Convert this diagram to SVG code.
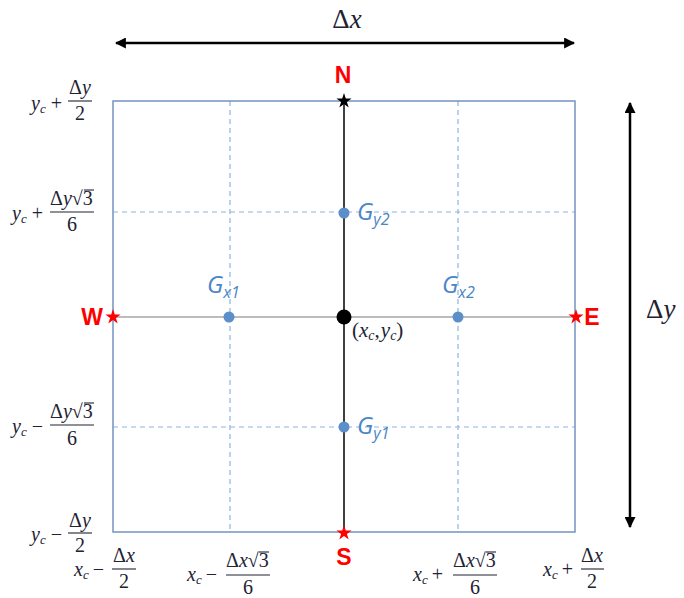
<svg xmlns="http://www.w3.org/2000/svg" width="684" height="598" viewBox="0 0 684 598">
<style>
.m{font-family:"Liberation Serif","DejaVu Serif",serif;font-size:20px;fill:#222233}
.mi{font-style:italic}
.sub{font-size:13px;font-style:italic}
.big{font-size:27px}
.c{text-anchor:middle}
.bar{stroke:#222233;stroke-width:1.1}
.lbl{font-family:"Liberation Sans",Arial,sans-serif;font-weight:bold;font-size:23px;fill:#ff0000;text-anchor:middle}
.g{font-family:"Open Sans","Liberation Sans",sans-serif;font-style:italic;font-size:24px;fill:#4a86c6}
.gs{font-size:16px}
.box{fill:none;stroke:#7394c0;stroke-width:1.5}
.dash{fill:none;stroke:#8db4e2;stroke-width:1.2;stroke-dasharray:5 4}
.arr{stroke:#000;stroke-width:2.5;fill:none}
</style>
<defs>
<marker id="ah" viewBox="0 0 10 10" refX="9" refY="5" markerWidth="4.4" markerHeight="4.4" orient="auto-start-reverse" markerUnits="strokeWidth">
<path d="M0,0 L10,5 L0,10 z" fill="#000"/>
</marker>
<path id="star" d="M0,-8 L1.80,-2.48 L7.61,-2.47 L2.91,0.95 L4.70,6.47 L0,3.06 L-4.70,6.47 L-2.91,0.95 L-7.61,-2.47 L-1.80,-2.48 Z"/>
</defs>

<g id="connectors">
<line class="arr" x1="116" y1="43" x2="574" y2="43" marker-start="url(#ah)" marker-end="url(#ah)"/>
<line class="arr" x1="630" y1="103" x2="630" y2="527" marker-start="url(#ah)" marker-end="url(#ah)"/>
<line x1="230" y1="101" x2="230" y2="532" class="dash"/>
<line x1="458" y1="101" x2="458" y2="532" class="dash"/>
<line x1="113" y1="212" x2="575" y2="212" class="dash"/>
<line x1="113" y1="427" x2="575" y2="427" class="dash"/>
<line x1="113" y1="317" x2="575" y2="317" stroke="#a6a6a6" stroke-width="1.5"/>
<line x1="344" y1="101" x2="344" y2="532" stroke="#000" stroke-width="1.5"/>
</g>

<g id="cell">
<rect class="box" x="113" y="101" width="462" height="431"/>
</g>

<g id="dx-label"><text class="m c big" x="347" y="28">Δ<tspan class="mi">x</tspan></text></g>
<g id="dy-label"><text class="m big" x="646" y="318">Δ<tspan class="mi">y</tspan></text></g>

<g id="N"><use href="#star" x="344" y="101" fill="#000"/><text class="lbl" x="343" y="83">N</text></g>
<g id="S"><use href="#star" x="344" y="533" fill="#ff0000"/><text class="lbl" x="344" y="565">S</text></g>
<g id="W"><use href="#star" x="113" y="317" fill="#ff0000"/><text class="lbl" x="92" y="325">W</text></g>
<g id="E"><use href="#star" x="576" y="317" fill="#ff0000"/><text class="lbl" x="592" y="325">E</text></g>

<g id="center"><circle cx="344" cy="317" r="7.5" fill="#000"/>
<text class="m" x="352" y="337" style="font-size:21px">(<tspan class="mi">x</tspan><tspan class="sub" dy="3" style="font-size:14px">c</tspan><tspan dy="-3">,</tspan><tspan class="mi" dx="1">y</tspan><tspan class="sub" dy="3" style="font-size:14px">c</tspan><tspan dy="-3">)</tspan></text></g>

<g id="Gx1"><circle cx="229" cy="317" r="5.5" fill="#5b8fca"/><text class="g" x="207" y="293">G<tspan class="gs" dy="5">x1</tspan></text></g>
<g id="Gx2"><circle cx="458" cy="317" r="5.5" fill="#5b8fca"/><text class="g" x="442" y="293">G<tspan class="gs" dy="5">x2</tspan></text></g>
<g id="Gy2"><circle cx="344" cy="213" r="5.5" fill="#5b8fca"/><text class="g" x="357" y="220">G<tspan class="gs" dy="5">y2</tspan></text></g>
<g id="Gy1"><circle cx="344" cy="427" r="5.5" fill="#5b8fca"/><text class="g" x="357" y="434">G<tspan class="gs" dy="5">y1</tspan></text></g>

<!-- left labels -->
<g id="ly1">
<text class="m" x="31" y="110"><tspan class="mi">y</tspan><tspan class="sub" dy="3">c</tspan><tspan dy="-3" dx="5">+</tspan></text>
<text class="m c" x="80" y="94">Δ<tspan class="mi">y</tspan></text>
<line class="bar" x1="68" y1="101" x2="92" y2="101"/>
<text class="m c" x="80" y="120">2</text>
</g>
<g id="ly2">
<text class="m" x="12" y="220"><tspan class="mi">y</tspan><tspan class="sub" dy="3">c</tspan><tspan dy="-3" dx="5">+</tspan></text>
<text class="m" x="50" y="205">Δ<tspan class="mi">y</tspan>√3</text>
<line class="bar" x1="84" y1="190" x2="94" y2="190"/>
<line class="bar" x1="50" y1="212" x2="94" y2="212"/>
<text class="m c" x="72" y="231">6</text>
</g>
<g id="ly3">
<text class="m" x="12" y="433"><tspan class="mi">y</tspan><tspan class="sub" dy="3">c</tspan><tspan dy="-3" dx="5">−</tspan></text>
<text class="m" x="50" y="418">Δ<tspan class="mi">y</tspan>√3</text>
<line class="bar" x1="84" y1="403" x2="94" y2="403"/>
<line class="bar" x1="50" y1="425" x2="94" y2="425"/>
<text class="m c" x="72" y="445">6</text>
</g>
<g id="ly4">
<text class="m" x="31" y="541"><tspan class="mi">y</tspan><tspan class="sub" dy="3">c</tspan><tspan dy="-3" dx="5">−</tspan></text>
<text class="m c" x="80" y="527">Δ<tspan class="mi">y</tspan></text>
<line class="bar" x1="68" y1="533" x2="92" y2="533"/>
<text class="m c" x="80" y="552">2</text>
</g>

<!-- bottom labels -->
<g id="bx1">
<text class="m" x="74" y="576"><tspan class="mi">x</tspan><tspan class="sub" dy="3">c</tspan><tspan dy="-3" dx="4">−</tspan></text>
<text class="m c" x="124" y="562">Δ<tspan class="mi">x</tspan></text>
<line class="bar" x1="112" y1="569" x2="136" y2="569"/>
<text class="m c" x="124" y="588">2</text>
</g>
<g id="bx2">
<text class="m" x="187" y="581"><tspan class="mi">x</tspan><tspan class="sub" dy="3">c</tspan><tspan dy="-3" dx="4">−</tspan></text>
<text class="m" x="226" y="567">Δ<tspan class="mi">x</tspan>√3</text>
<line class="bar" x1="259" y1="552" x2="269" y2="552"/>
<line class="bar" x1="226" y1="575" x2="270" y2="575"/>
<text class="m c" x="248" y="594">6</text>
</g>
<g id="bx3">
<text class="m" x="413" y="581"><tspan class="mi">x</tspan><tspan class="sub" dy="3">c</tspan><tspan dy="-3" dx="4">+</tspan></text>
<text class="m" x="453" y="567">Δ<tspan class="mi">x</tspan>√3</text>
<line class="bar" x1="486" y1="552" x2="496" y2="552"/>
<line class="bar" x1="453" y1="575" x2="497" y2="575"/>
<text class="m c" x="475" y="594">6</text>
</g>
<g id="bx4">
<text class="m" x="543" y="576"><tspan class="mi">x</tspan><tspan class="sub" dy="3">c</tspan><tspan dy="-3" dx="4">+</tspan></text>
<text class="m c" x="592" y="562">Δ<tspan class="mi">x</tspan></text>
<line class="bar" x1="581" y1="569" x2="604" y2="569"/>
<text class="m c" x="592" y="588">2</text>
</g>
</svg>
